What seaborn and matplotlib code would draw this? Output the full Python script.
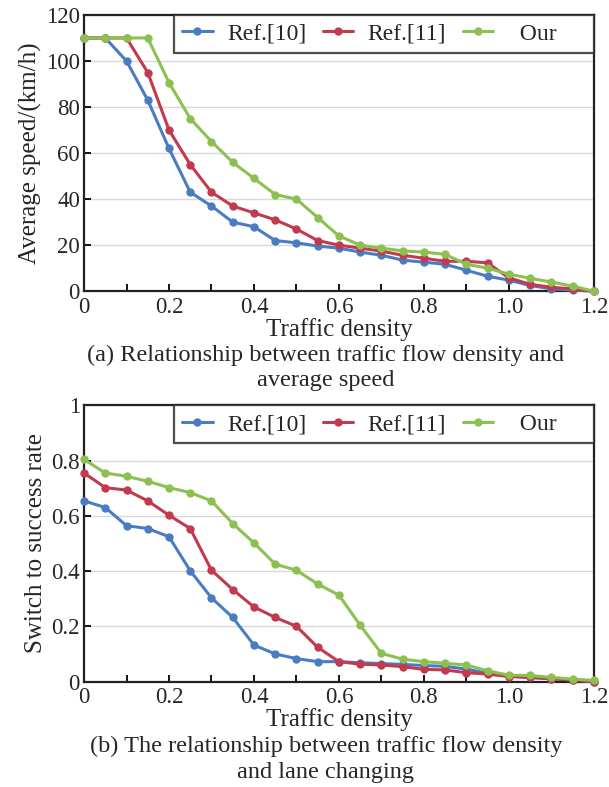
import seaborn as sns
import matplotlib.pyplot as plt
import pandas as pd
import numpy as np

# traffic density, 0 .. 1.2 step 0.05
density = [0.0, 0.05, 0.1, 0.15, 0.2, 0.25, 0.3, 0.35, 0.4, 0.45, 0.5, 0.55, 0.6,
           0.65, 0.7, 0.75, 0.8, 0.85, 0.9, 0.95, 1.0, 1.05, 1.1, 1.15, 1.2]

# (a) average speed (km/h)
speed_ref10 = [110, 110, 100, 83, 62, 43, 37, 30, 28, 22, 21, 19.6, 18.7,
               17, 15.6, 13.5, 12.6, 11.7, 9.1, 6.5, 4.8, 2.5, 1, 0.5, 0]
speed_ref11 = [110, 110, 110, 95, 70, 55, 43, 37, 34, 31, 27, 22, 20,
               18.7, 17.4, 15.6, 14.3, 13, 13, 12.3, 5.8, 3, 1.7, 1, 0]
speed_our = [110, 110, 110, 110, 90.6, 75, 65, 56, 49, 42, 40, 32, 24,
             20, 18.7, 17.5, 17, 16, 11.7, 10, 7.4, 5.6, 4, 2.2, 0]

# (b) switch to success rate
rate_ref10 = [0.654, 0.63, 0.564, 0.554, 0.524, 0.401, 0.303, 0.232, 0.132, 0.1, 0.083, 0.072, 0.072,
              0.068, 0.065, 0.062, 0.058, 0.055, 0.045, 0.03, 0.02, 0.015, 0.01, 0.005, 0.0]
rate_ref11 = [0.755, 0.702, 0.693, 0.654, 0.602, 0.554, 0.403, 0.333, 0.27, 0.232, 0.2, 0.124, 0.072,
              0.063, 0.06, 0.054, 0.044, 0.042, 0.032, 0.027, 0.018, 0.015, 0.01, 0.006, 0.0]
rate_our = [0.804, 0.755, 0.743, 0.725, 0.702, 0.684, 0.654, 0.572, 0.502, 0.425, 0.403, 0.353, 0.313,
            0.204, 0.102, 0.081, 0.072, 0.066, 0.06, 0.039, 0.023, 0.022, 0.015, 0.009, 0.004]

methods = ["Ref.[10]", "Ref.[11]", "Our"]
colors = ["#4a7cc2", "#c23a4e", "#8cc152"]

sns.set_style("ticks")
plt.rcParams['font.family'] = ['Liberation Serif', 'DejaVu Serif']


def long_df(series):
    frames = []
    for name, vals in zip(methods, series):
        frames.append(pd.DataFrame({"density": density, "value": vals, "method": name}))
    return pd.concat(frames, ignore_index=True)


fig = plt.figure(figsize=(6.09, 7.87), dpi=100)
ax1 = fig.add_axes([0.138, 0.630, 0.837, 0.351])
ax2 = fig.add_axes([0.138, 0.134, 0.837, 0.351])

panels = [
    (ax1, long_df([speed_ref10, speed_ref11, speed_our]), [0, 20, 40, 60, 80, 100, 120],
     ["0", "20", "40", "60", "80", "100", "120"], (0, 120), "Average speed/(km/h)"),
    (ax2, long_df([rate_ref10, rate_ref11, rate_our]), [0, 0.2, 0.4, 0.6, 0.8, 1.0],
     ["0", "0.2", "0.4", "0.6", "0.8", "1"], (0, 1), "Switch to success rate"),
]

for ax, df, yt, ytl, ylim, ylabel in panels:
    sns.lineplot(data=df, x="density", y="value", hue="method", hue_order=methods,
                 palette=colors, marker="o", markersize=6, markeredgewidth=0,
                 linewidth=2.2, ax=ax, clip_on=False, zorder=3)
    ax.set_xlim(0, 1.2)
    ax.set_ylim(*ylim)
    ax.set_xticks(np.arange(0, 1.21, 0.1))
    ax.set_xticklabels(["0", "", "0.2", "", "0.4", "", "0.6", "", "0.8", "", "1.0", "", "1.2"])
    ax.set_yticks(yt)
    ax.set_yticklabels(ytl)
    ax.tick_params(direction="in", length=5, width=1.3, labelsize=16.5, color="black")
    ax.tick_params(axis="x", pad=4)
    ax.tick_params(axis="y", pad=3)
    ax.grid(axis="y", color="#d8d8d8", linewidth=1)
    ax.set_axisbelow(True)
    for sp in ax.spines.values():
        sp.set_visible(True)
        sp.set_linewidth(1.6)
        sp.set_color("#222222")
    ax.set_xlabel("Traffic density", fontsize=18, labelpad=0)
    ax.set_ylabel(ylabel, fontsize=18, labelpad=3)
    h, l = ax.get_legend_handles_labels()
    leg = ax.legend(h, ["Ref.[10]", "Ref.[11]", "  Our     "], loc="upper right",
                    bbox_to_anchor=(1.0, 1.0), ncol=3, fontsize=17, frameon=True,
                    fancybox=False, borderaxespad=0, handlelength=1.3, handletextpad=0.6,
                    columnspacing=0.7, borderpad=0.35)
    leg.get_frame().set_edgecolor("#222222")
    leg.get_frame().set_linewidth(1.6)

fig.text(0.535, 0.549, "(a) Relationship between traffic flow density and", ha="center",
         va="center", fontsize=17.5)
fig.text(0.535, 0.516, "average speed", ha="center", va="center", fontsize=17.5)
fig.text(0.535, 0.051, "(b) The relationship between traffic flow density", ha="center",
         va="center", fontsize=17.5)
fig.text(0.535, 0.019, "and lane changing", ha="center", va="center", fontsize=17.5)

fig.savefig("out.png", dpi=100)
